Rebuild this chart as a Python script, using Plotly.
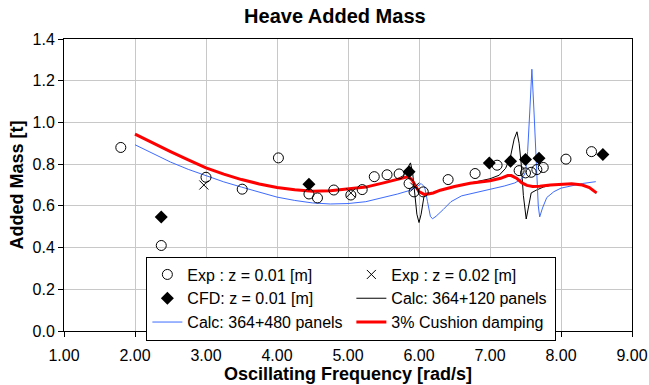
import plotly.graph_objects as go

# ---- Data ----
exp01_x = [1.80, 2.37, 3.00, 3.51, 4.02, 4.45, 4.57, 4.80, 5.04, 5.20, 5.37, 5.55, 5.72, 5.86, 5.93, 6.06,
           6.41, 6.79, 7.10, 7.41, 7.50, 7.58, 7.66, 7.75, 8.07, 8.43]
exp01_y = [0.880, 0.410, 0.737, 0.680, 0.830, 0.657, 0.638, 0.676, 0.652, 0.678, 0.740, 0.749, 0.753, 0.707, 0.667, 0.667,
           0.726, 0.755, 0.795, 0.769, 0.758, 0.761, 0.774, 0.784, 0.824, 0.860]

exp02_x = [2.97, 5.04, 5.94]
exp02_y = [0.700, 0.662, 0.690]

cfd_x = [2.37, 4.45, 5.86, 6.99, 7.29, 7.50, 7.69, 8.59]
cfd_y = [0.547, 0.703, 0.764, 0.806, 0.814, 0.822, 0.828, 0.846]

calc120_x = [2.0, 2.25, 2.5, 2.75, 3.0, 3.25, 3.5, 3.75, 4.0, 4.25, 4.5, 4.75, 5.0, 5.25, 5.5, 5.7,
             5.78, 5.84, 5.88, 5.91, 5.94, 5.97, 6.0, 6.03, 6.07, 6.1, 6.2, 6.3, 6.5, 6.72, 7.0, 7.13,
             7.22, 7.29, 7.34, 7.38, 7.41, 7.44, 7.47, 7.51, 7.54, 7.58, 7.65, 7.75, 7.85, 8.0, 8.15,
             8.3, 8.4, 8.5]
calc120_y = [0.944, 0.900, 0.860, 0.820, 0.782, 0.752, 0.726, 0.705, 0.688, 0.677, 0.670, 0.672, 0.680, 0.690, 0.710, 0.730,
             0.745, 0.780, 0.806, 0.760, 0.660, 0.560, 0.520, 0.560, 0.645, 0.655, 0.662, 0.675, 0.693, 0.708, 0.730, 0.747,
             0.780, 0.838, 0.920, 0.955, 0.900, 0.800, 0.650, 0.537, 0.600, 0.662, 0.675, 0.690, 0.698, 0.704, 0.706,
             0.700, 0.688, 0.662]

calc480_x = [2.0, 2.25, 2.5, 2.75, 3.0, 3.25, 3.5, 3.75, 4.0, 4.25, 4.5, 4.75, 5.0, 5.25, 5.5, 5.7,
             5.85, 5.95, 6.03, 6.08, 6.12, 6.16, 6.19, 6.24, 6.34, 6.45, 6.6, 6.8, 7.0, 7.2, 7.35, 7.45,
             7.5, 7.53, 7.56, 7.59, 7.62, 7.65, 7.68, 7.70, 7.74, 7.8, 7.9, 8.0, 8.17, 8.3, 8.49]
calc480_y = [0.893, 0.850, 0.810, 0.775, 0.745, 0.715, 0.690, 0.665, 0.642, 0.626, 0.614, 0.609, 0.611, 0.620, 0.640, 0.657,
             0.672, 0.688, 0.707, 0.690, 0.620, 0.550, 0.538, 0.550, 0.582, 0.620, 0.648, 0.664, 0.678, 0.695, 0.710, 0.730,
             0.760, 0.860, 1.050, 1.255, 1.050, 0.800, 0.600, 0.547, 0.590, 0.640, 0.668, 0.685, 0.699, 0.707, 0.716]

damp_x = [2.0, 2.25, 2.5, 2.75, 3.0, 3.25, 3.5, 3.75, 4.0, 4.25, 4.5, 4.75, 5.0, 5.25, 5.5, 5.7,
          5.85, 5.9, 5.95, 6.0, 6.08, 6.2, 6.3, 6.5, 6.72, 7.0, 7.15, 7.25, 7.3, 7.38, 7.45, 7.52,
          7.6, 7.7, 7.85, 8.0, 8.15, 8.3, 8.4, 8.5]
damp_y = [0.944, 0.900, 0.860, 0.820, 0.782, 0.752, 0.726, 0.705, 0.688, 0.677, 0.670, 0.672, 0.680, 0.690, 0.710, 0.728,
          0.740, 0.725, 0.698, 0.668, 0.654, 0.662, 0.675, 0.693, 0.708, 0.720, 0.732, 0.745, 0.745, 0.731, 0.710, 0.698,
          0.693, 0.694, 0.700, 0.704, 0.706, 0.700, 0.688, 0.662]

x_ticks = [1, 2, 3, 4, 5, 6, 7, 8, 9]
y_ticks = [0.0, 0.2, 0.4, 0.6, 0.8, 1.0, 1.2, 1.4]

FONT = "Liberation Sans, Arial, sans-serif"

fig = go.Figure()

fig.add_trace(go.Scatter(x=calc120_x, y=calc120_y, mode="lines", name="Calc: 364+120 panels",
                         line=dict(color="black", width=1), legendrank=4))
fig.add_trace(go.Scatter(x=calc480_x, y=calc480_y, mode="lines", name="Calc: 364+480 panels",
                         line=dict(color="#3D6BFF", width=1), legendrank=5))
fig.add_trace(go.Scatter(x=damp_x, y=damp_y, mode="lines", name="3% Cushion damping",
                         line=dict(color="#FF0000", width=3), legendrank=6))
fig.add_trace(go.Scatter(x=exp01_x, y=exp01_y, mode="markers", name="Exp : z = 0.01 [m]",
                         marker=dict(symbol="circle-open", size=10, color="black", line=dict(width=1)),
                         legendrank=1))
fig.add_trace(go.Scatter(x=exp02_x, y=exp02_y, mode="markers", name="Exp : z = 0.02 [m]",
                         marker=dict(symbol="x-thin", size=9, color="black", line=dict(width=1, color="black")),
                         legendrank=2))
fig.add_trace(go.Scatter(x=cfd_x, y=cfd_y, mode="markers", name="CFD: z = 0.01 [m]",
                         marker=dict(symbol="diamond", size=10, color="black"),
                         legendrank=3))

fig.update_layout(
    width=649, height=385,
    margin=dict(l=64, r=17, t=39, b=54),
    paper_bgcolor="white", plot_bgcolor="white",
    font=dict(family=FONT, size=16, color="black"),
    title=dict(text="<b>Heave Added Mass</b>", x=0.516, xref="container", xanchor="center",
               y=0.958, yref="container", yanchor="middle", font=dict(size=20, family=FONT)),
    showlegend=True,
    legend=dict(orientation="h", x=0.145, y=0.255, xanchor="left", yanchor="top",
                xref="paper", yref="paper",
                bgcolor="white", bordercolor="black", borderwidth=1,
                entrywidth=159, font=dict(size=16, family=FONT), traceorder="normal"),
)

fig.update_xaxes(range=[1, 9], tickvals=x_ticks, ticktext=[f"{v:.2f}" for v in x_ticks],
                 showgrid=True, gridcolor="#C8C8C8", gridwidth=1,
                 showline=True, linecolor="black", linewidth=1, mirror=True,
                 ticks="outside", ticklen=5, tickcolor="black", zeroline=False,
                 ticklabelstandoff=5, automargin=False,
                 title=dict(text="<b>Oscillating Frequency [rad/s]</b>", font=dict(size=18, family=FONT), standoff=0))
fig.update_yaxes(range=[0, 1.4], tickvals=y_ticks, ticktext=[f"{v:.1f}" for v in y_ticks],
                 showgrid=True, gridcolor="#C8C8C8", gridwidth=1,
                 showline=True, linecolor="black", linewidth=1, mirror=True,
                 ticks="outside", ticklen=5, tickcolor="black", zeroline=False,
                 automargin=False,
                 title=dict(text="<b>Added Mass [t]</b>", font=dict(size=18, family=FONT), standoff=4))

fig.write_html("out.html")
